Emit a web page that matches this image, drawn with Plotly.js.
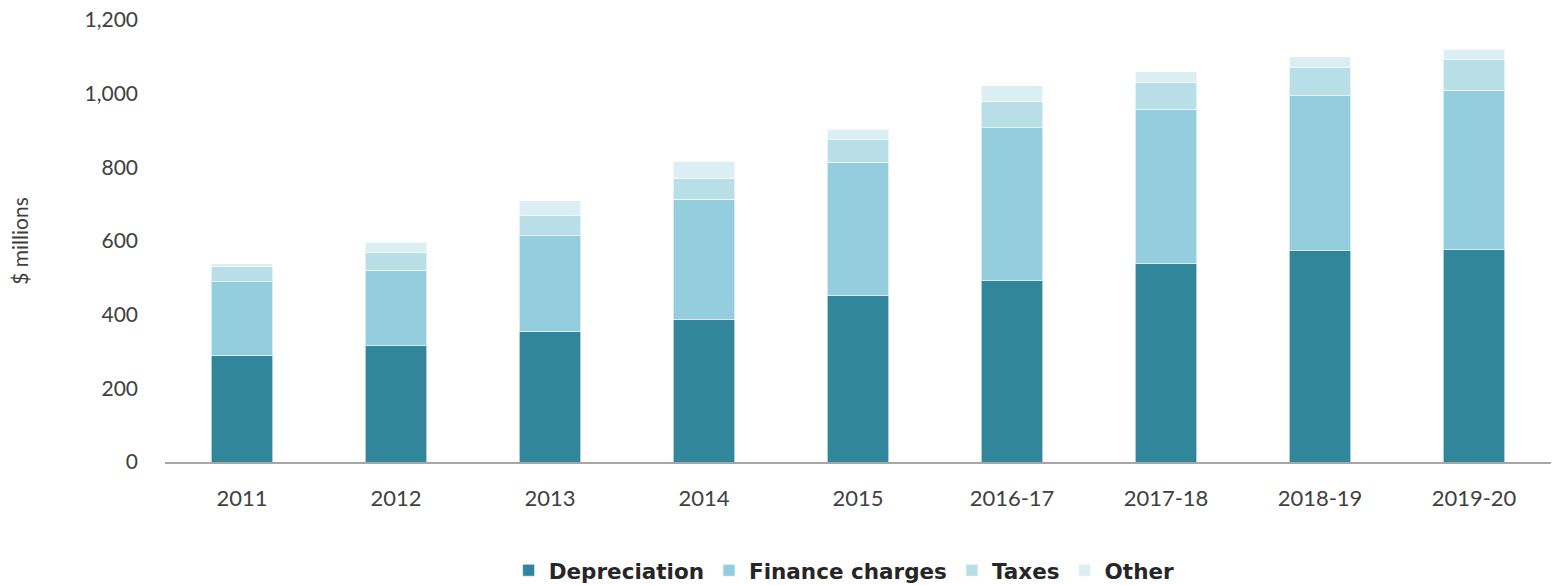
<!DOCTYPE html>
<html>
<head>
<meta charset="utf-8">
<script src="https://cdn.plot.ly/plotly-3.0.1.min.js"></script>
<style>html,body{margin:0;padding:0;background:#fff}#chart{width:1554px;height:585px}</style>
</head>
<body>
<div id="chart"></div>
<script>
const categories = ["2011","2012","2013","2014","2015","2016-17","2017-18","2018-19","2019-20"];
const depreciation = [290, 315, 355, 387, 453, 492, 539, 573, 576];
const financeCharges = [199, 206, 259, 326, 361, 416, 419, 422, 433];
const taxes = [43, 47, 55, 57, 61, 72, 73, 76, 83];
const other = [6, 28, 40, 47, 29, 41, 28, 29, 29];

const seriesNames = ["Depreciation","Finance charges","Taxes","Other"];
const seriesColors = ["#31869B","#94CDDE","#B8DEE8","#DBEEF4"];
const seriesValues = [depreciation, financeCharges, taxes, other];

const traces = seriesValues.map((vals, i) => ({
  type: "bar",
  name: seriesNames[i],
  x: categories,
  y: vals,
  marker: {color: seriesColors[i], line: {color: "rgba(255,255,255,0.6)", width: 1}},
  hoverinfo: "x+y+name"
}));

const font = "Lato, 'Noto Sans', sans-serif";
const layout = {
  width: 1554, height: 585,
  margin: {l: 165, r: 3, t: 20, b: 123, autoexpand: false},
  barmode: "stack",
  bargap: 0.6,
  paper_bgcolor: "#fff",
  plot_bgcolor: "#fff",
  font: {family: font, color: "#404040", size: 20},
  xaxis: {
    type: "category",
    showline: true, linecolor: "#A6A6A6", linewidth: 2,
    ticks: "", showgrid: false,
    tickfont: {size: 22, color: "#404040"},
    ticklabelstandoff: 16
  },
  yaxis: {
    range: [0, 1200], dtick: 200, tickformat: ",",
    showgrid: false, zeroline: false, showline: false,
    ticks: "", tickfont: {size: 21, color: "#404040"},
    ticklabelstandoff: 26,
    title: {text: "$ millions", font: {size: 21, color: "#404040"}, standoff: 50}
  },
  showlegend: true,
  legend: {
    orientation: "h", x: 0.49, xanchor: "center", y: -0.245, yanchor: "middle",
    font: {size: 21.5, color: "#262626", family: "'DejaVu Sans', sans-serif", weight: "bold"},
    itemwidth: 30, traceorder: "normal", tracegroupgap: 0
  }
};

Plotly.newPlot("chart", traces, layout, {displayModeBar: false, staticPlot: true});
</script>
</body>
</html>
